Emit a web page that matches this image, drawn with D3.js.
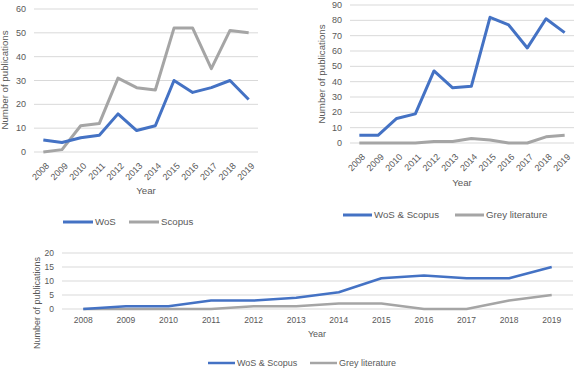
<!DOCTYPE html>
<html>
<head>
<meta charset="utf-8">
<script src="https://cdn.jsdelivr.net/npm/d3@7"></script>
<style>
  body { margin: 0; background: #fff; }
  svg { display: block; font-family: "Liberation Sans", Arial, sans-serif; }
  text { fill: #595959; }
</style>
</head>
<body>
<svg id="chart" width="575" height="370"></svg>
<script>
const years = ['2008', '2009', '2010', '2011', '2012', '2013', '2014', '2015', '2016', '2017', '2018', '2019'];

// top left
const wos = [5, 4, 6, 7, 16, 9, 11, 30, 25, 27, 30, 22];
const scopus = [0, 1, 11, 12, 31, 27, 26, 52, 52, 35, 51, 50];
// top right
const wosScopusA = [5, 5, 16, 19, 47, 36, 37, 82, 77, 62, 81, 72];
const greyA = [0, 0, 0, 0, 1, 1, 3, 2, 0, 0, 4, 5];
// bottom
const wosScopusB = [0, 1, 1, 3, 3, 4, 6, 11, 12, 11, 11, 15];
const greyB = [0, 0, 0, 0, 1, 1, 2, 2, 0, 0, 3, 5];

const yTicksA = [0, 10, 20, 30, 40, 50, 60];
const yTicksB = [0, 10, 20, 30, 40, 50, 60, 70, 80, 90];
const yTicksC = [0, 5, 10, 15, 20];

const blue = '#4472c4';
const grey = '#a5a5a5';

const svg = d3.select('#chart');

function lineChart(c) {
  const g = svg.append('g');
  const x = d3.scaleBand().domain(years).range([c.left, c.right]);
  const y = d3.scaleLinear().domain([0, d3.max(c.ticks)]).range([c.bottom, c.top]);

  // gridlines
  g.append('g')
    .selectAll('line')
    .data(c.ticks)
    .join('line')
      .attr('x1', c.left)
      .attr('x2', c.right)
      .attr('y1', d => y(d))
      .attr('y2', d => y(d))
      .attr('stroke', '#d9d9d9')
      .attr('stroke-width', 1);

  g.append('g')
    .selectAll('text')
    .data(c.ticks)
    .join('text')
      .attr('x', c.left - 8)
      .attr('y', d => y(d))
      .attr('dy', '0.35em')
      .attr('text-anchor', 'end')
      .style('font-size', c.tickFont)
      .text(d => d);

  const xt = g.append('g')
    .selectAll('text')
    .data(years)
    .join('text')
      .style('font-size', c.tickFont)
      .text(d => d);
  if (c.rotate) {
    xt.attr('text-anchor', 'end')
      .attr('transform', d => `translate(${x(d) + x.bandwidth() / 2 + 2},${c.bottom + 10}) rotate(-45)`)
      .attr('dy', '0.7em');
  } else {
    xt.attr('text-anchor', 'middle')
      .attr('x', d => x(d) + x.bandwidth() / 2)
      .attr('y', c.bottom + 11)
      .attr('dy', '0.35em');
  }

  g.append('text')
    .attr('x', c.xTitle[0])
    .attr('y', c.xTitle[1])
    .attr('text-anchor', 'middle')
    .style('font-size', c.titleFont)
    .text('Year');

  g.append('text')
    .attr('transform', `translate(${c.yTitle[0]},${c.yTitle[1]}) rotate(-90)`)
    .attr('text-anchor', 'middle')
    .style('font-size', c.titleFont)
    .text('Number of publications');

  const line = d3.line()
    .x((d, i) => x(years[i]) + x.bandwidth() / 2)
    .y(d => y(d));

  // grey first so the blue sits on top where they cross
  c.series.slice().reverse().forEach(s => {
    g.append('path')
      .attr('d', line(s.values))
      .attr('fill', 'none')
      .attr('stroke', s.color)
      .attr('stroke-width', c.width)
      .attr('stroke-linejoin', 'round');
  });

  c.series.forEach((s, i) => {
    const [lx, ly] = c.legend[i];
    g.append('line')
      .attr('x1', lx).attr('x2', lx + c.legendLen)
      .attr('y1', ly).attr('y2', ly)
      .attr('stroke', s.color)
      .attr('stroke-width', c.width);
    g.append('text')
      .attr('x', lx + c.legendLen + 2)
      .attr('y', ly)
      .attr('dy', '0.35em')
      .style('font-size', c.titleFont)
      .text(s.name);
  });
}

lineChart({
  left: 34, right: 258, top: 9, bottom: 152,
  ticks: yTicksA, rotate: true, width: 3,
  tickFont: '9px', titleFont: '9.7px',
  xTitle: [146, 194], yTitle: [8, 80],
  legend: [[63, 222], [129, 222]], legendLen: 30,
  series: [{name: 'WoS', values: wos, color: blue},
           {name: 'Scopus', values: scopus, color: grey}]
});

lineChart({
  left: 350, right: 574, top: 5, bottom: 143,
  ticks: yTicksB, rotate: true, width: 3,
  tickFont: '9px', titleFont: '9.7px',
  xTitle: [462, 186], yTitle: [325, 74],
  legend: [[343, 215], [455, 215]], legendLen: 29,
  series: [{name: 'WoS & Scopus', values: wosScopusA, color: blue},
           {name: 'Grey literature', values: greyA, color: grey}]
});

lineChart({
  left: 62, right: 573, top: 253, bottom: 309,
  ticks: yTicksC, rotate: false, width: 2.5,
  tickFont: '8.5px', titleFont: '9px',
  xTitle: [317, 337], yTitle: [40, 303],
  legend: [[208, 363], [310, 363]], legendLen: 27,
  series: [{name: 'WoS & Scopus', values: wosScopusB, color: blue},
           {name: 'Grey literature', values: greyB, color: grey}]
});
</script>
</body>
</html>
